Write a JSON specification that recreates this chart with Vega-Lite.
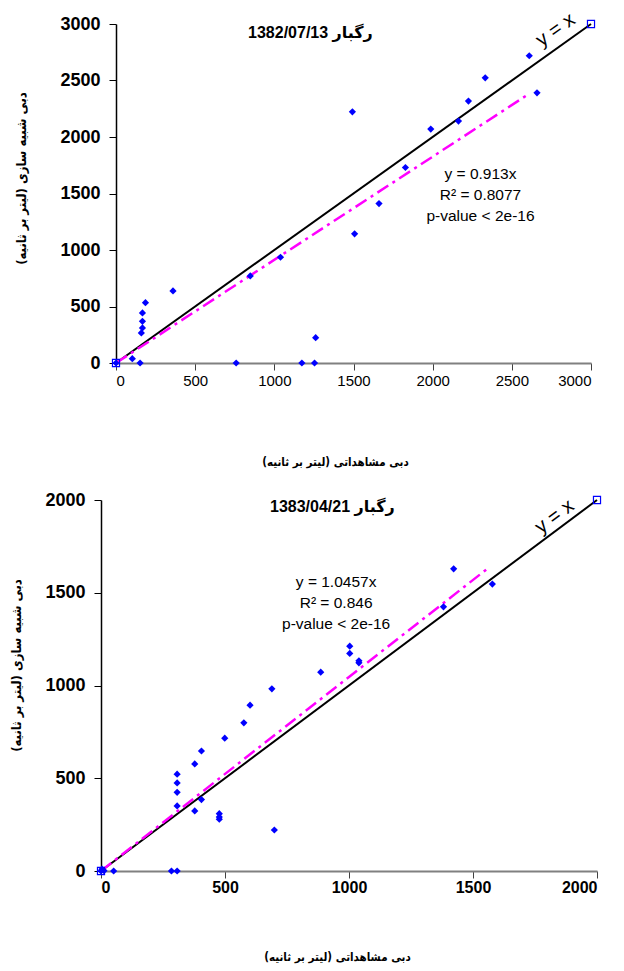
{
  "$schema": "https://vega.github.io/schema/vega-lite/v6.json",
  "background": "white",
  "padding": {"left": 10, "top": 9, "right": 3, "bottom": 5},
  "config": {"view": {"stroke": null}, "concat": {"spacing": 23}},
  "datasets": {
    "obs1": [
      {"x": 0, "y": 0}, {"x": 103, "y": 38}, {"x": 152, "y": 0}, {"x": 160, "y": 266}, {"x": 167, "y": 310},
      {"x": 167, "y": 369}, {"x": 167, "y": 443}, {"x": 186, "y": 534}, {"x": 360, "y": 638}, {"x": 759, "y": 0},
      {"x": 848, "y": 771}, {"x": 1039, "y": 936}, {"x": 1174, "y": 0}, {"x": 1254, "y": 0}, {"x": 1261, "y": 224},
      {"x": 1493, "y": 2223}, {"x": 1507, "y": 1143}, {"x": 1661, "y": 1411}, {"x": 1828, "y": 1730}, {"x": 1988, "y": 2070},
      {"x": 2163, "y": 2141}, {"x": 2226, "y": 2318}, {"x": 2332, "y": 2524}, {"x": 2610, "y": 2719}, {"x": 2659, "y": 2391}
    ],
    "ref1": [{"x": 0, "y": 0}, {"x": 3000, "y": 3000}],
    "fit1": [{"x": 0, "y": 0}, {"x": 2600, "y": 2374}],
    "title1": [{"x": 1228, "y": 2923, "label": "1382/07/13 رگبار"}],
    "stats1": [{"x": 2302, "y": 1671, "label": "y = 0.913x\nR² = 0.8077\np-value < 2e-16"}],
    "yx1": [{"x": 2776, "y": 2947, "label": "y = x"}],
    "obs2": [
      {"x": 0, "y": 0}, {"x": 4, "y": 10}, {"x": 12, "y": 2}, {"x": 51, "y": 0}, {"x": 284, "y": 0},
      {"x": 307, "y": 0}, {"x": 307, "y": 522}, {"x": 307, "y": 475}, {"x": 307, "y": 424}, {"x": 307, "y": 351},
      {"x": 378, "y": 577}, {"x": 378, "y": 324}, {"x": 405, "y": 647}, {"x": 405, "y": 385}, {"x": 477, "y": 309},
      {"x": 477, "y": 291}, {"x": 477, "y": 279}, {"x": 499, "y": 716}, {"x": 576, "y": 799}, {"x": 601, "y": 894},
      {"x": 689, "y": 982}, {"x": 699, "y": 221}, {"x": 886, "y": 1072}, {"x": 1003, "y": 1212}, {"x": 1003, "y": 1173},
      {"x": 1040, "y": 1133}, {"x": 1040, "y": 1122}, {"x": 1381, "y": 1424}, {"x": 1422, "y": 1629}, {"x": 1578, "y": 1547}
    ],
    "ref2": [{"x": 0, "y": 0}, {"x": 2000, "y": 2000}],
    "fit2": [{"x": 0, "y": 0}, {"x": 1567, "y": 1639}],
    "title2": [{"x": 933, "y": 1963, "label": "1383/04/21 رگبار"}],
    "stats2": [{"x": 948, "y": 1558, "label": "y = 1.0457x\nR² = 0.846\np-value < 2e-16"}],
    "yx2": [{"x": 1829, "y": 1910, "label": "y = x"}]
  },
  "vconcat": [
    {
      "width": 490,
      "height": 339,
      "encoding": {
        "x": {
          "field": "x", "type": "quantitative",
          "scale": {"domain": [0, 3000], "range": [15, 490], "nice": false, "zero": false},
          "axis": {
            "title": "دبی مشاهداتی (لیتر بر ثانیه)‏",
            "values": [0, 500, 1000, 1500, 2000, 2500, 3000], "format": "d",
            "grid": false, "domainColor": "#808080", "domainWidth": 2,
            "tickColor": "#404040", "tickSize": 7, "tickWidth": 1,
            "labelFont": "Liberation Sans", "labelFontSize": 15, "labelFontWeight": "normal", "labelColor": "black", "labelPadding": 3,
            "titleFont": "DejaVu Sans Condensed", "titleFontSize": 11.5, "titleFontWeight": "bold", "titleColor": "black",
            "titleX": 234, "titleY": 99, "titleBaseline": "middle"
          }
        },
        "y": {
          "field": "y", "type": "quantitative",
          "scale": {"domain": [0, 3000], "nice": false, "zero": false},
          "axis": {
            "title": "دبی شبیه سازی (لیتر بر ثانیه)‏",
            "values": [0, 500, 1000, 1500, 2000, 2500, 3000], "format": "d",
            "offset": -15,
            "grid": false, "domainColor": "black", "domainWidth": 1.5,
            "tickColor": "black", "tickSize": 7, "tickWidth": 1,
            "labelFont": "Liberation Sans", "labelFontSize": 18, "labelFontWeight": "bold", "labelColor": "black", "labelPadding": 9,
            "titleFont": "DejaVu Sans Condensed", "titleFontSize": 13, "titleFontWeight": "bold", "titleColor": "black",
            "titleX": -95, "titleY": 154, "titleBaseline": "middle"
          }
        }
      },
      "layer": [
        {"data": {"name": "ref1"}, "mark": {"type": "line", "color": "black", "strokeWidth": 2}, "encoding": {}},
        {"data": {"name": "fit1"}, "mark": {"type": "line", "color": "#FF00FF", "strokeWidth": 2.5, "strokeDash": [13, 5, 3, 5]}, "encoding": {}},
        {"data": {"name": "obs1"}, "mark": {"type": "point", "shape": "diamond", "filled": true, "color": "#0000FF", "size": 52, "opacity": 1}},
        {"data": {"name": "ref1"}, "mark": {"type": "point", "shape": "square", "filled": false, "color": "#0000FF", "size": 50, "strokeWidth": 1.2, "opacity": 1}},
        {"data": {"name": "title1"}, "mark": {"type": "text", "font": "Liberation Sans, DejaVu Sans", "fontWeight": "bold", "fontSize": 16, "color": "black"}, "encoding": {"text": {"field": "label"}}},
        {"data": {"name": "stats1"}, "mark": {"type": "text", "font": "Liberation Sans", "fontSize": 15.5, "color": "black", "lineBreak": "\n", "lineHeight": 21, "baseline": "middle"}, "encoding": {"text": {"field": "label"}}},
        {"data": {"name": "yx1"}, "mark": {"type": "text", "font": "Liberation Sans", "fontSize": 20, "color": "black", "angle": 325}, "encoding": {"text": {"field": "label"}}}
      ]
    },
    {
      "width": 496,
      "height": 371,
      "encoding": {
        "x": {
          "field": "x", "type": "quantitative",
          "scale": {"domain": [0, 2000], "nice": false, "zero": false},
          "axis": {
            "title": "دبی مشاهداتی (لیتر بر ثانیه)‏",
            "values": [0, 500, 1000, 1500, 2000], "format": "d",
            "grid": false, "domainColor": "#808080", "domainWidth": 2,
            "tickColor": "#404040", "tickSize": 7, "tickWidth": 1,
            "labelFont": "Liberation Sans", "labelFontSize": 16, "labelFontWeight": "bold", "labelColor": "black", "labelPadding": 1,
            "titleFont": "DejaVu Sans Condensed", "titleFontSize": 11.5, "titleFontWeight": "bold", "titleColor": "black",
            "titleX": 236, "titleY": 86, "titleBaseline": "middle"
          }
        },
        "y": {
          "field": "y", "type": "quantitative",
          "scale": {"domain": [0, 2000], "nice": false, "zero": false},
          "axis": {
            "title": "دبی شبیه سازی (لیتر بر ثانیه)‏",
            "values": [0, 500, 1000, 1500, 2000], "format": "d",
            "grid": false, "domainColor": "black", "domainWidth": 1.5,
            "tickColor": "black", "tickSize": 7, "tickWidth": 1,
            "labelFont": "Liberation Sans", "labelFontSize": 18, "labelFontWeight": "bold", "labelColor": "black", "labelPadding": 9,
            "titleFont": "DejaVu Sans Condensed", "titleFontSize": 13, "titleFontWeight": "bold", "titleColor": "black",
            "titleX": -85, "titleY": 165, "titleBaseline": "middle"
          }
        }
      },
      "layer": [
        {"data": {"name": "ref2"}, "mark": {"type": "line", "color": "black", "strokeWidth": 2}, "encoding": {}},
        {"data": {"name": "fit2"}, "mark": {"type": "line", "color": "#FF00FF", "strokeWidth": 2.5, "strokeDash": [13, 5, 3, 5]}, "encoding": {}},
        {"data": {"name": "obs2"}, "mark": {"type": "point", "shape": "diamond", "filled": true, "color": "#0000FF", "size": 52, "opacity": 1}},
        {"data": {"name": "ref2"}, "mark": {"type": "point", "shape": "square", "filled": false, "color": "#0000FF", "size": 50, "strokeWidth": 1.2, "opacity": 1}},
        {"data": {"name": "title2"}, "mark": {"type": "text", "font": "Liberation Sans, DejaVu Sans", "fontWeight": "bold", "fontSize": 16, "color": "black"}, "encoding": {"text": {"field": "label"}}},
        {"data": {"name": "stats2"}, "mark": {"type": "text", "font": "Liberation Sans", "fontSize": 15.5, "color": "black", "lineBreak": "\n", "lineHeight": 21, "baseline": "middle"}, "encoding": {"text": {"field": "label"}}},
        {"data": {"name": "yx2"}, "mark": {"type": "text", "font": "Liberation Sans", "fontSize": 20, "color": "black", "angle": 323}, "encoding": {"text": {"field": "label"}}}
      ]
    }
  ]
}
